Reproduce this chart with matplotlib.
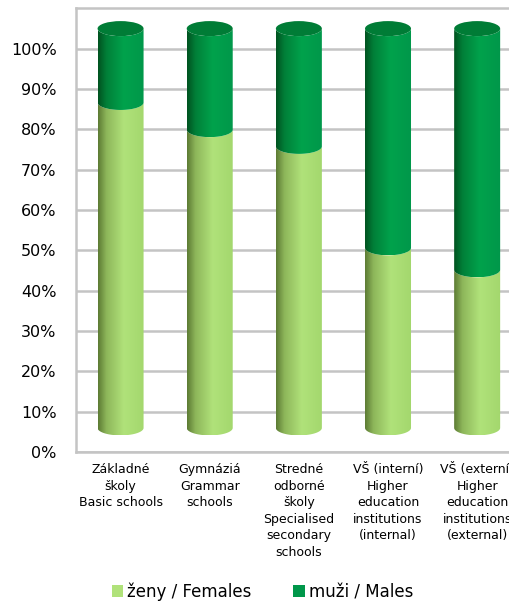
import numpy as np
import matplotlib
matplotlib.use("Agg")
import matplotlib.pyplot as plt
from matplotlib.path import Path
from matplotlib.patches import PathPatch, Ellipse, Patch
from matplotlib.colors import LinearSegmentedColormap
from matplotlib.ticker import PercentFormatter

categories = ["Základné\nškoly\nBasic schools",
              "Gymnáziá\nGrammar\nschools",
              "Stredné\nodborné\nškoly\nSpecialised\nsecondary\nschools",
              "VŠ (interní)\nHigher\neducation\ninstitutions\n(internal)",
              "VŠ (externí)\nHigher\neducation\ninstitutions\n(external)"]
females = [0.815, 0.747, 0.705, 0.451, 0.396]
males = [1 - f for f in females]

fem_cmap = LinearSegmentedColormap.from_list(
    "fem", [(0, "#5c7a33"), (0.18, "#8db65a"), (0.55, "#b0e27a"), (1.0, "#a3d76d")])
male_cmap = LinearSegmentedColormap.from_list(
    "male", [(0, "#00521f"), (0.18, "#007f38"), (0.55, "#00a24c"), (1.0, "#00974a")])
male_top = "#007c36"

base = 0.06     # cylinders float a bit above the floor in the 3D view
scale = 0.99
rx = 0.258      # half width of cylinder (category units)
ry = 0.0186     # half height of the ellipses

fig = plt.figure(figsize=(5.10, 6.02), dpi=100)
ax = fig.add_axes([0.149, 0.249, 0.874, 0.737])


def cylinder_piece(xc, y0, y1, cmap, z):
    t = np.linspace(np.pi, 2 * np.pi, 60)
    bx = xc + rx * np.cos(t)
    by = y0 + ry * np.sin(t)
    tx = (xc + rx * np.cos(t))[::-1]
    ty = (y1 + ry * np.sin(t))[::-1]
    verts = np.concatenate([np.column_stack([bx, by]), np.column_stack([tx, ty]),
                            [[bx[0], by[0]]]])
    codes = [Path.MOVETO] + [Path.LINETO] * (len(verts) - 2) + [Path.CLOSEPOLY]
    clip = PathPatch(Path(verts, codes), transform=ax.transData,
                     facecolor="none", edgecolor="none")
    ax.add_patch(clip)
    grad = np.linspace(0, 1, 256).reshape(1, -1)
    im = ax.imshow(grad, cmap=cmap, aspect="auto", interpolation="bilinear",
                   extent=[xc - rx, xc + rx, y0 - ry, y1 + ry], zorder=z)
    im.set_clip_path(clip)


x = np.arange(len(categories))
for i, (f, m) in enumerate(zip(females, males)):
    y_b = base
    y_f = base + f * scale
    y_t = y_f + m * scale
    cylinder_piece(x[i], y_b, y_f, fem_cmap, 3)
    cylinder_piece(x[i], y_f, y_t, male_cmap, 4)
    ax.add_patch(Ellipse((x[i], y_t), 2 * rx, 2 * ry, facecolor=male_top,
                         edgecolor="none", zorder=5))

ax.set_xlim(-0.5, len(categories) - 0.5)
ax.set_ylim(0, 1.10)
ax.set_yticks(np.arange(0, 1.01, 0.1))
ax.yaxis.set_major_formatter(PercentFormatter(1.0, decimals=0))
ax.set_xticks(x)
ax.set_xticklabels(categories, fontsize=9, linespacing=1.35)
ax.tick_params(axis="y", labelsize=11.5, length=0, pad=14)
ax.tick_params(axis="x", length=0, pad=8)
ax.grid(axis="y", color="#c4c4c4", linewidth=1.8)
ax.set_axisbelow(True)
for s in ["left", "bottom", "top"]:
    ax.spines[s].set_color("#c4c4c4")
    ax.spines[s].set_linewidth(1.8)
ax.spines["right"].set_visible(False)

handles = [Patch(facecolor="#b0e27a", label="ženy / Females"),
           Patch(facecolor="#00974a", label="muži / Males")]
fig.legend(handles=handles, loc="center", bbox_to_anchor=(0.515, 0.017), ncol=2,
           frameon=False, fontsize=12, handlelength=0.7, handleheight=0.7,
           handletextpad=0.25, columnspacing=2.5)

fig.savefig("out.png", dpi=100)
